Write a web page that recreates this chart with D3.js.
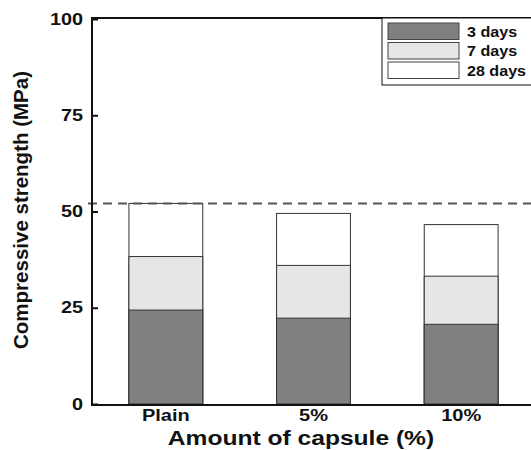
<!DOCTYPE html>
<html>
<head>
<meta charset="utf-8">
<script src="https://cdn.jsdelivr.net/npm/d3@7"></script>
<style>
  body { margin: 0; background: #fff; }
  svg text { font-family: Arial, "Liberation Sans", sans-serif; font-weight: bold; fill: #111; }
</style>
</head>
<body>
<script>
const width = 531, height = 450

const categories = ["Plain", "5%", "10%"]
const days3 = [24.4, 22.3, 20.7]
const days7 = [38.3, 36.0, 33.2]
const days28 = [52.1, 49.5, 46.6]
const yTicks = [0, 25, 50, 75, 100]
const refLine = 52.1

const series = [
    { name: "3 days", values: days3, fill: "#808080" },
    { name: "7 days", values: days7, fill: "#e6e6e6" },
    { name: "28 days", values: days28, fill: "#ffffff" }
]

const plotLeft = 92, plotRight = 535, plotTop = 18, plotBottom = 404

// the original type is wider than Arial, so widen text around its anchor
function widen(sel, sx) {
    sel.each(function () {
        const t = d3.select(this)
        const tx = +t.attr("x") || 0, ty = +t.attr("y") || 0
        t.attr("x", 0).attr("y", 0)
            .attr("transform", "translate(" + tx + "," + ty + ") scale(" + sx + ",1)")
    })
}

const svg = d3.select("body")
    .append("svg")
    .attr("width", width)
    .attr("height", height)

const x = d3.scaleBand()
    .domain(categories)
    .range([plotLeft, plotRight])
    .paddingInner(0.5)
    .paddingOuter(0.25)

const y = d3.scaleLinear()
    .domain([0, 100])
    .range([plotBottom, plotTop + 1])

// bars, drawn tallest first so shorter ages sit in front
series.slice().reverse().forEach(s => {
    svg.append("g")
        .selectAll("rect")
        .data(categories)
        .enter()
        .append("rect")
        .attr("x", d => x(d))
        .attr("width", x.bandwidth())
        .attr("y", (d, i) => y(s.values[i]))
        .attr("height", (d, i) => y(0) - y(s.values[i]))
        .attr("fill", s.fill)
        .attr("stroke", "#333")
        .attr("stroke-width", 1)
})

// dashed reference line
svg.append("line")
    .attr("x1", plotLeft - 4)
    .attr("x2", width)
    .attr("y1", y(refLine))
    .attr("y2", y(refLine))
    .attr("stroke", "#555")
    .attr("stroke-width", 2)
    .attr("stroke-dasharray", "9,6")

// y axis
const yAxis = d3.axisLeft(y)
    .tickValues(yTicks)
    .tickSize(-6)
    .tickPadding(9)
svg.append("g")
    .attr("transform", "translate(" + plotLeft + ",0)")
    .call(yAxis)
    .call(g => g.select(".domain").remove())
    .call(g => g.selectAll(".tick line").attr("stroke", "#111").attr("stroke-width", 2))
    .call(g => g.selectAll("text").style("font-size", "16px").call(widen, 1.24))

// x axis
const xAxis = d3.axisBottom(x).tickSize(0).tickPadding(6)
svg.append("g")
    .attr("transform", "translate(0," + plotBottom + ")")
    .call(xAxis)
    .call(g => g.select(".domain").remove())
    .call(g => g.selectAll("text").style("font-size", "16px").call(widen, 1.25))

// frame
svg.append("path")
    .attr("d", "M" + width + "," + plotTop + "H" + plotLeft + "V" + (plotBottom + 1) + "H" + width)
    .attr("fill", "none")
    .attr("stroke", "#111")
    .attr("stroke-width", 2)

// axis titles
svg.append("text")
    .attr("transform", "translate(28," + 210 + ") rotate(-90)")
    .attr("text-anchor", "middle")
    .style("font-size", "20.5px")
    .text("Compressive strength (MPa)")

svg.append("text")
    .attr("x", 301)
    .attr("y", 445)
    .attr("text-anchor", "middle")
    .style("font-size", "20px")
    .text("Amount of capsule (%)")
    .call(widen, 1.23)

// legend
const legend = svg.append("g").attr("id", "legend")
legend.append("rect")
    .attr("x", 382)
    .attr("y", plotTop)
    .attr("width", 160)
    .attr("height", 85 - plotTop)
    .attr("fill", "#fff")
    .attr("stroke", "#111")
    .attr("stroke-width", 1)

series.forEach((s, i) => {
    legend.append("rect")
        .attr("x", 388)
        .attr("y", 23 + i * 19.5)
        .attr("width", 71)
        .attr("height", 16.5)
        .attr("fill", s.fill)
        .attr("stroke", "#444")
        .attr("stroke-width", 1)
    legend.append("text")
        .attr("x", 467)
        .attr("y", 36.5 + i * 19.5)
        .style("font-size", "14px")
        .text(s.name)
        .call(widen, 1.15)
})
</script>
</body>
</html>
